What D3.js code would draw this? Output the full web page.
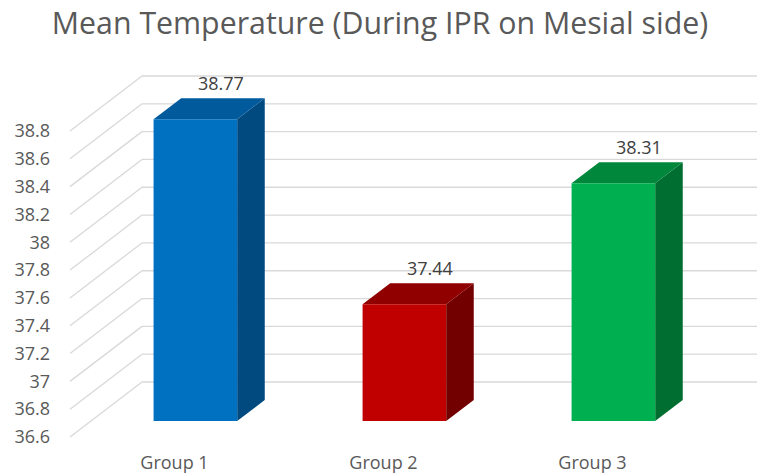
<!DOCTYPE html>
<html>
<head>
<meta charset="utf-8">
<script src="https://cdn.jsdelivr.net/npm/d3@7"></script>
<style>
  html, body { margin: 0; padding: 0; background: #fff; }
  svg { display: block; font-family: "Open Sans", "Liberation Sans", sans-serif; }
</style>
</head>
<body>
<svg id="chart" width="758" height="476"></svg>
<script>
// Chart data
const categories = ["Group 1", "Group 2", "Group 3"];
const values = [38.77, 37.44, 38.31];
const yTicks = [36.6, 36.8, 37, 37.2, 37.4, 37.6, 37.8, 38, 38.2, 38.4, 38.6, 38.8];
const titleText = "Mean Temperature (During IPR on Mesial side)";

// Face colours per bar: front, top, side
const frontColors = ["#0070C0", "#C00000", "#00B050"];
const topColors = ["#005A9C", "#900000", "#00873C"];
const sideColors = ["#004A80", "#730000", "#006E30"];

const svg = d3.select("#chart");
const W = 758;

// Front plane scales
const x = d3.scaleBand().domain(categories).range([70, 697])
  .paddingInner(0.6).paddingOuter(0.3);
const y = d3.scaleLinear().domain([36.6, 38.8]).range([437, 131]);

// Oblique depth projection: depth 0 = front plane, 1 = back wall
const DEPTH_DX = 72, DEPTH_DY = -55;
const proj = (px, py, d) => [px + DEPTH_DX * d, py + DEPTH_DY * d];
const barD0 = 0.29, barD1 = 0.673;

const gridColor = "#d9d9d9";
const grid = svg.append("g");
yTicks.forEach(v => {
  const f = proj(x.range()[0], y(v), 0);
  const b = proj(x.range()[0], y(v), 1);
  // side wall line
  grid.append("line")
    .attr("x1", f[0]).attr("y1", f[1]).attr("x2", b[0]).attr("y2", b[1])
    .attr("stroke", gridColor).attr("stroke-width", 1.3);
  // back wall line
  grid.append("line")
    .attr("x1", b[0]).attr("y1", b[1]).attr("x2", W - 1).attr("y2", b[1])
    .attr("stroke", gridColor).attr("stroke-width", 1.3);
});

// Axis tick labels
svg.append("g").selectAll("text").data(yTicks).join("text")
  .attr("x", 50).attr("y", d => y(d))
  .attr("dy", "0.35em")
  .attr("text-anchor", "end")
  .attr("font-size", 18)
  .attr("fill", "#595959")
  .text(d => d);

// 3D bars
const pathOf = pts => "M" + pts.map(p => p.join(",")).join("L") + "Z";
const bars = svg.append("g");
values.forEach((v, i) => {
  const c = categories[i];
  const xl = x(c), xr = x(c) + x.bandwidth();
  const yt = y(v), yb = y(y.domain()[0]);
  const fl_t = proj(xl, yt, barD0), fr_t = proj(xr, yt, barD0);
  const fl_b = proj(xl, yb, barD0), fr_b = proj(xr, yb, barD0);
  const bl_t = proj(xl, yt, barD1), br_t = proj(xr, yt, barD1);
  const br_b = proj(xr, yb, barD1);
  // side face
  bars.append("path").attr("d", pathOf([fr_t, br_t, br_b, fr_b])).attr("fill", sideColors[i]);
  // top face
  bars.append("path").attr("d", pathOf([fl_t, bl_t, br_t, fr_t])).attr("fill", topColors[i]);
  // front face
  bars.append("path").attr("d", pathOf([fl_t, fr_t, fr_b, fl_b])).attr("fill", frontColors[i]);
  // value label above the bar
  const cx = (bl_t[0] + br_t[0]) / 2 - 2;
  bars.append("text")
    .attr("x", cx).attr("y", bl_t[1] - 8)
    .attr("text-anchor", "middle")
    .attr("font-size", 18)
    .attr("fill", "#404040")
    .text(v);
});

// Category labels
svg.append("g").selectAll("text").data(categories).join("text")
  .attr("x", d => x(d) + x.bandwidth() / 2)
  .attr("y", 469)
  .attr("text-anchor", "middle")
  .attr("font-size", 18)
  .attr("fill", "#595959")
  .text(d => d);

// Title
svg.append("text")
  .attr("x", 380).attr("y", 34)
  .attr("text-anchor", "middle")
  .attr("font-size", 30.3)
  .attr("fill", "#595959")
  .text(titleText);
</script>
</body>
</html>
